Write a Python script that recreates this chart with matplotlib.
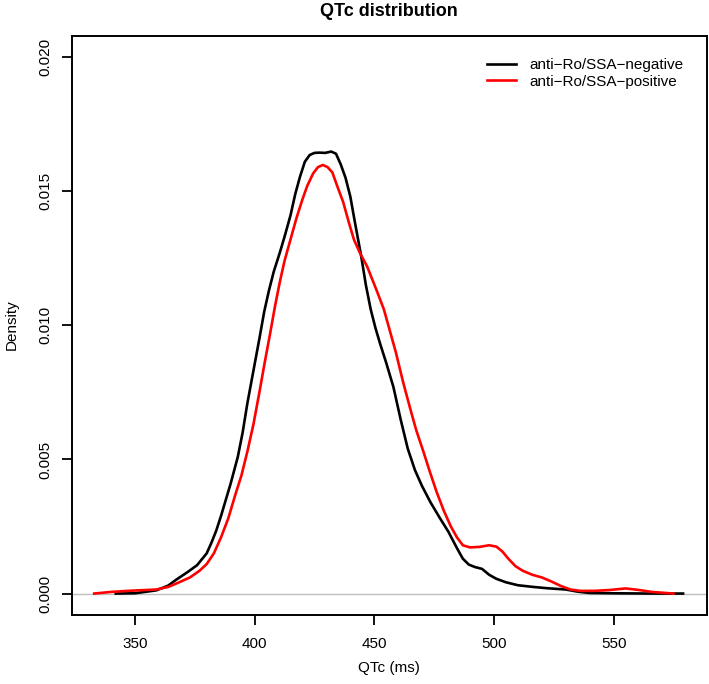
import numpy as np
import matplotlib.pyplot as plt

plt.rcParams['font.family'] = ['Liberation Sans', 'DejaVu Sans']

# Density curves
neg_x = [342, 350, 359, 364, 367, 372, 376, 378, 380, 382, 384, 386, 388, 390, 393, 395, 397, 399.5, 402,
         404, 406, 408, 410.5, 412.5, 415, 417, 419, 421, 423, 425, 427, 429.5, 432, 434, 436, 438, 440,
         442, 444.5, 446.5, 448.5, 450.5, 452.5, 455, 458, 461, 464, 467, 470, 473.5, 477.5, 481, 484.5,
         487, 489.5, 492, 495, 498, 501, 505, 510, 516, 522, 530, 535, 540, 550, 565, 579]
neg_y = [0, 0.00001, 0.00012, 0.0003, 0.0005, 0.0008, 0.00106, 0.00128, 0.0015, 0.0019, 0.00235, 0.0029,
         0.0035, 0.0041, 0.0051, 0.0060, 0.0071, 0.0083, 0.0095, 0.0105, 0.0113, 0.0120, 0.0127, 0.0133,
         0.0141, 0.0149, 0.01555, 0.0161, 0.01635, 0.01643, 0.01644, 0.01643, 0.01648, 0.0164, 0.0160,
         0.0155, 0.0148, 0.0138, 0.0126, 0.0115, 0.0106, 0.0099, 0.0093, 0.0086, 0.0077, 0.0065, 0.0054,
         0.0046, 0.0040, 0.0034, 0.0028, 0.0023, 0.0017, 0.0013, 0.00108, 0.00099, 0.00092, 0.0007,
         0.00055, 0.00042, 0.00031, 0.00025, 0.0002, 0.00015, 0.00007, 0.00002, 0.00001, 0, 0]

pos_x = [333, 340, 347, 359, 364, 368, 373, 377, 380, 383, 386, 389, 392, 394.5, 397, 399.5, 402, 404,
         406.5, 408.5, 410.5, 412.5, 415, 417.5, 420, 422, 424.5, 426.5, 428.5, 430.5, 432.5, 434.5, 437,
         439.5, 441.5, 444, 447, 451, 454, 456.5, 459, 462, 465, 467.5, 470.5, 473, 476, 479, 482, 484.5,
         487, 490, 494, 498, 501, 503.5, 506, 509, 512, 516, 520, 524, 528, 532, 536, 542, 548, 555, 560,
         566, 575]
pos_y = [0, 0.00006, 0.0001, 0.00015, 0.00025, 0.0004, 0.0006, 0.00085, 0.0011, 0.0015, 0.0021, 0.0028,
         0.0037, 0.0044, 0.0053, 0.0063, 0.0075, 0.0085, 0.0097, 0.0107, 0.0116, 0.0124, 0.0132, 0.0140,
         0.0147, 0.0152, 0.01567, 0.0159, 0.01598, 0.0159, 0.0157, 0.0152, 0.0146, 0.0138, 0.0132, 0.0127,
         0.0122, 0.0113, 0.0106, 0.0098, 0.0090, 0.0079, 0.0069, 0.0061, 0.0053, 0.0046, 0.0038, 0.0031,
         0.0025, 0.0021, 0.0018, 0.00172, 0.00174, 0.0018, 0.00175, 0.00157, 0.0013, 0.00102, 0.00085,
         0.0007, 0.0006, 0.00045, 0.00028, 0.00015, 0.0001, 0.0001, 0.00013, 0.00019, 0.00014, 0.00006, 0]

labels = ['anti\u2212Ro/SSA\u2212negative', 'anti\u2212Ro/SSA\u2212positive']
x_ticks = [350, 400, 450, 500, 550]
y_ticks = [0.000, 0.005, 0.010, 0.015, 0.020]

W, H = 709, 684
fig = plt.figure(figsize=(W / 100, H / 100), dpi=100)
ax = fig.add_axes([71.7 / W, 1 - 615 / H, (707 - 71.7) / W, (615 - 35.7) / H])

ax.axhline(0, color='#bebebe', lw=1, zorder=1)
ax.plot(neg_x, neg_y, color='black', lw=1.9, label=labels[0], solid_joinstyle='round')
ax.plot(pos_x, pos_y, color='red', lw=1.9, label=labels[1], solid_joinstyle='round')

ax.set_xlim(323.6, 589.0)
ax.set_ylim(-0.0008, 0.0208)
ax.set_xticks(x_ticks)
ax.set_yticks(y_ticks)
ax.set_yticklabels(['%.3f' % v for v in y_ticks], rotation=90, va='center')
ax.tick_params(axis='both', length=7, width=1.3, labelsize=11, color='black')
ax.tick_params(axis='x', pad=9)
ax.tick_params(axis='y', pad=7)
for s in ax.spines.values():
    s.set_linewidth(1.4)

# titles and axis labels placed like the R output
fig.text(389 / W, 1 - 12 / H, 'QTc distribution', ha='center', va='center', fontsize=13, fontweight='bold')
fig.text(389 / W, 1 - 668 / H, 'QTc (ms)', ha='center', va='center', fontsize=11)
fig.text(12 / W, 1 - 325 / H, 'Density', ha='center', va='center', fontsize=11, rotation=90)

ax.legend(loc='upper left', bbox_to_anchor=(487 / W, 1 - 58 / H), bbox_transform=fig.transFigure,
          frameon=False, fontsize=11, handlelength=1.9, handletextpad=0.85, labelspacing=0.18,
          borderpad=0, borderaxespad=0)

fig.savefig('out.png', dpi=100)
